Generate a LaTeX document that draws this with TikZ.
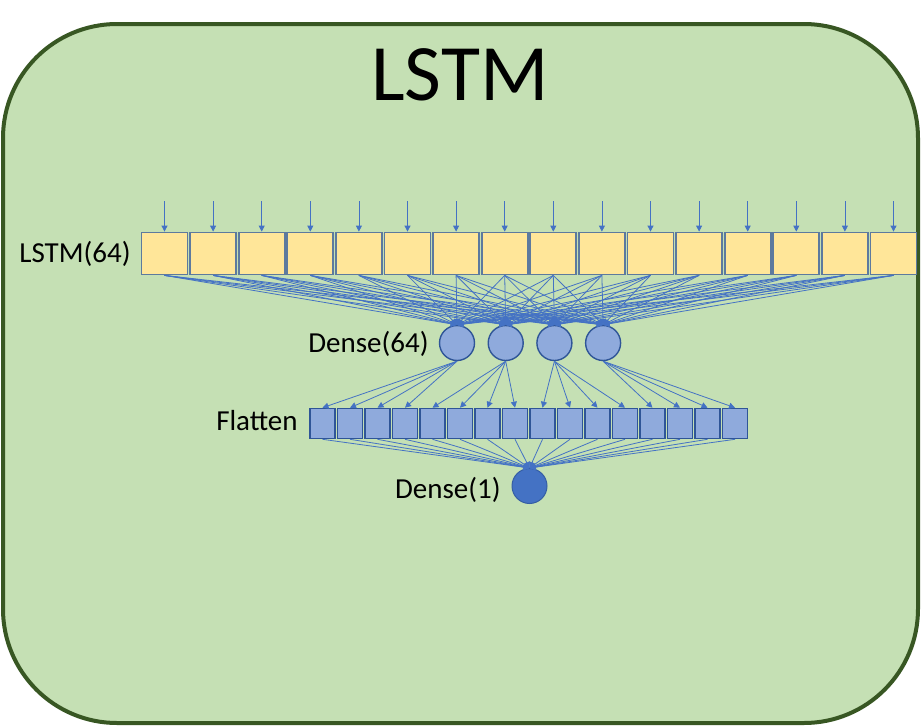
\documentclass[tikz,border=0pt]{standalone}
\usepackage{fontspec}
\setmainfont{Carlito}
\usetikzlibrary{arrows.meta}

\definecolor{panelfill}{HTML}{C5E0B4}
\definecolor{panelline}{HTML}{385723}
\definecolor{cellfill}{HTML}{FFE699}
\definecolor{cellline}{HTML}{5D7A9E}
\definecolor{unitfill}{HTML}{8FAADC}
\definecolor{unitline}{HTML}{2F5597}
\definecolor{linkblue}{HTML}{4472C4}

\tikzset{
  lbl/.style={font=\fontsize{14.5pt}{17pt}\selectfont, inner sep=0pt},
  lstmcell/.style={draw=cellline, fill=cellfill, line width=0.9pt, minimum width=23pt, minimum height=21pt, inner sep=0pt},
  flatcell/.style={draw=unitline, fill=unitfill, line width=0.8pt, minimum width=12.5pt, minimum height=15pt, inner sep=0pt},
  denseunit/.style={draw=unitline, fill=unitfill, circle, line width=0.7pt, minimum size=17.5pt, inner sep=0pt},
  outunit/.style={draw=unitline!70!linkblue, fill=linkblue, circle, line width=0.5pt, minimum size=17.5pt, inner sep=0pt},
  link/.style={draw=linkblue, line width=0.4pt, -{Triangle[length=3pt,width=3pt]}}
}

\begin{document}
\begin{tikzpicture}[x=0.5pt, y=-0.5pt]
			\useasboundingbox (0,0) rectangle (921,728);

			% Panel
			\draw[panelline, fill=panelfill, line width=2pt, rounded corners=57pt] (3,24) rectangle (918,723);
			\node[font=\fontsize{40pt}{44pt}\selectfont, inner sep=0pt] (title) at (460,75) {LSTM};

			% LSTM cells with their inputs
			\node[lbl, anchor=east] (lstmlabel) at (131,254) {LSTM(64)};
			\foreach \i in {1,...,16} {
				\node[lstmcell] (lstm\i) at ({164.5+(\i-1)*48.6},253.5) {};
				\coordinate (in\i) at ({164.5+(\i-1)*48.6},201);
				\draw[link] (in\i) -- (lstm\i.north);
			}

			% Dense(64) units
			\node[lbl, anchor=east] (denselabel) at (429,344) {Dense(64)};
			\foreach \j in {1,...,4}
				\node[denseunit] (dense\j) at ({457+(\j-1)*48.7},343) {};

			% Flatten cells
			\node[lbl, anchor=east] (flatlabel) at (298,421) {Flatten};
			\foreach \i in {1,...,16}
				\node[flatcell] (flat\i) at ({322.5+(\i-1)*27.5},423.5) {};

			% Dense(1) unit
			\node[lbl, anchor=east] (outlabel) at (501,490) {Dense(1)};
			\node[outunit] (out) at (529.5,486) {};

			% Edges LSTM -> Dense(64)
			\foreach \i in {1,...,16}
				\foreach \j in {1,...,4}
					\draw[link] (lstm\i.south) -- (dense\j.north);

			% Edges Dense(64) -> Flatten
			\foreach \j in {1,...,4} {
				\foreach \k in {1,...,4} {
					\pgfmathtruncatemacro{\f}{4*(\j-1)+\k}
					\draw[link] (dense\j.south) -- (flat\f.north);
				}
			}

			% Edges Flatten -> Dense(1)
			\foreach \i in {1,...,16}
				\draw[link] (flat\i.south) -- (out.north);
		\end{tikzpicture}
\end{document}
